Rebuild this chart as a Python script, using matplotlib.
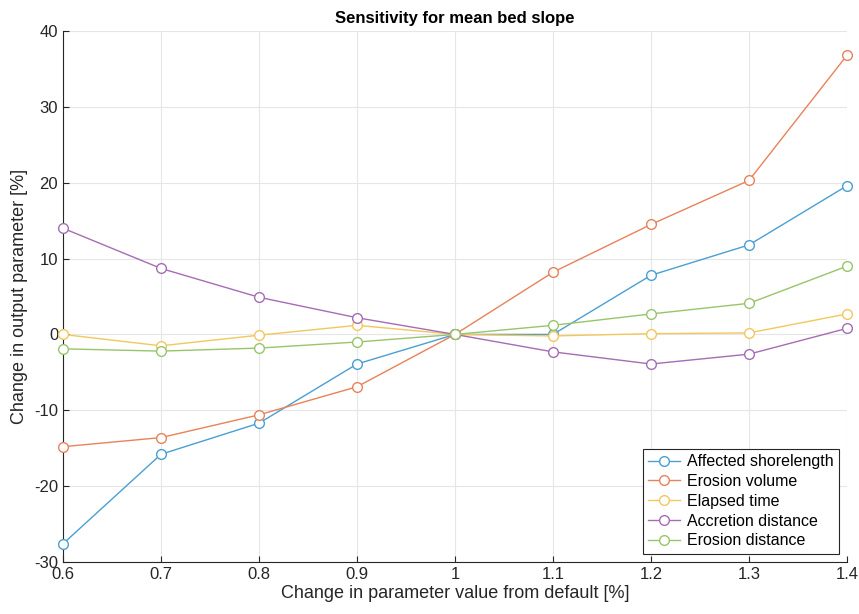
import numpy as np
import matplotlib
matplotlib.use("Agg")
import matplotlib.pyplot as plt

x = [0.6, 0.7, 0.8, 0.9, 1.0, 1.1, 1.2, 1.3, 1.4]

shorelength = [-27.6, -15.8, -11.7, -3.9, 0.0, 0.0, 7.8, 11.8, 19.6]
erosion_volume = [-14.8, -13.6, -10.6, -6.9, 0.0, 8.2, 14.5, 20.3, 36.8]
elapsed_time = [0.0, -1.5, -0.1, 1.2, 0.0, -0.2, 0.1, 0.2, 2.7]
accretion_dist = [14.0, 8.7, 4.9, 2.2, 0.0, -2.3, -3.9, -2.6, 0.8]
erosion_dist = [-1.9, -2.2, -1.8, -1.0, 0.0, 1.2, 2.7, 4.1, 9.0]

names = ["Affected shorelength", "Erosion volume", "Elapsed time",
         "Accretion distance", "Erosion distance"]
series = [shorelength, erosion_volume, elapsed_time, accretion_dist, erosion_dist]
colors = ["#4a9fd4", "#e8825a", "#f2c75c", "#a66cb5", "#99c46a"]

xticks = [0.6, 0.7, 0.8, 0.9, 1.0, 1.1, 1.2, 1.3, 1.4]
xticklabels = ["0.6", "0.7", "0.8", "0.9", "1", "1.1", "1.2", "1.3", "1.4"]
yticks = [-30, -20, -10, 0, 10, 20, 30, 40]

plt.rcParams['font.family'] = ['Liberation Sans', 'DejaVu Sans']
plt.rcParams['axes.unicode_minus'] = False

fig = plt.figure(figsize=(8.59, 6.14), dpi=100)
ax = fig.add_axes([63/859, 1 - 562/614, (847-63)/859, (562-31)/614])

for y, name, c in zip(series, names, colors):
    ax.plot(x, y, '-o', color=c, lw=1.0, ms=7, mfc='white', mec=c, mew=1.0,
            label=name, clip_on=False, zorder=3)

ax.set_xlim(0.6, 1.4)
ax.set_ylim(-30, 40)
ax.set_xticks(xticks)
ax.set_xticklabels(xticklabels)
ax.set_yticks(yticks)
ax.grid(True, color='#e6e6e6', lw=0.8)
ax.set_axisbelow(True)
ax.tick_params(direction='in', labelsize=12, colors='#262626', length=4)
for s in ['top', 'right']:
    ax.spines[s].set_visible(False)
for s in ['left', 'bottom']:
    ax.spines[s].set_color('#262626')
    ax.spines[s].set_linewidth(0.8)

ax.set_title("Sensitivity for mean bed slope", fontsize=12, fontweight='bold', pad=6)
ax.set_xlabel("Change in parameter value from default [%]", fontsize=13, color='#262626', labelpad=2)
ax.set_ylabel("Change in output parameter [%]", fontsize=13, color='#262626', labelpad=4)

leg = ax.legend(loc='lower right', fontsize=11.5, fancybox=False, framealpha=1,
                edgecolor='#262626', borderaxespad=0.5, handlelength=2.0,
                labelspacing=0.3, borderpad=0.35, handletextpad=0.4)
leg.get_frame().set_linewidth(0.8)

fig.savefig("out.png", dpi=100)
